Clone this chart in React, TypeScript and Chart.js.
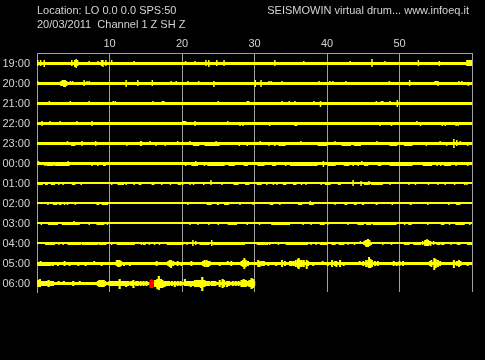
import React, { useEffect, useRef } from 'react';
import { Chart, registerables } from 'chart.js';

Chart.register(...registerables);

type Spike = [number, number, number]; // [minute, amplitude above trace, amplitude below trace]
type Block = [number, number]; // [start minute, end minute] of a thickened stretch

const headerLeft = ['Location: LO 0.0 0.0 SPS:50', '20/03/2011  Channel 1 Z SH Z'];
const headerRight = 'SEISMOWIN virtual drum... www.infoeq.it';

const rowLabels = ['19:00', '20:00', '21:00', '22:00', '23:00', '00:00', '01:00', '02:00', '03:00', '04:00', '05:00', '06:00'];
const rowEndMinutes = [60, 60, 60, 60, 60, 60, 60, 60, 60, 60, 60, 30];
const minuteTicks = [10, 20, 30, 40, 50];

const spikes19: Spike[] = [[0.1,2,1],[0.5,2,1],[1.0,2,2],[4.8,2,1],[5.2,2,2],[5.4,3,3],[5.6,2,1],[7.2,1,0],[8.4,1,0],[8.9,2,1],[9.1,2,2],[9.5,2,1],[10.3,2,0],[13.4,1,0],[20.5,1,0],[21.8,1,0],[23.3,2,1],[23.7,2,2],[24.8,2,1],[25.8,2,1],[32.8,2,1],[36.8,1,0],[43.2,1,0],[46.2,3,2],[48.0,1,0],[52.6,2,1],[55.5,1,1],[59.3,2,1],[59.5,2,1],[59.7,2,1],[59.9,2,1]];
const spikes20: Spike[] = [[0.1,1,0],[3.3,1,1],[3.5,2,1],[3.7,2,2],[3.9,2,2],[4.1,1,1],[4.6,1,0],[4.9,1,0],[6.5,2,1],[6.9,1,0],[7.2,1,0],[12.3,2,2],[13.9,2,1],[15.9,2,1],[18.5,1,0],[19.2,1,0],[20.8,1,0],[22.3,1,0],[24.4,1,2],[30.1,2,2],[30.9,2,2],[32.0,1,0],[32.3,1,0],[33.8,1,0],[38.9,1,0],[40.4,1,0],[40.8,1,0],[42.6,1,0],[48.6,1,0],[51.4,2,1],[54.9,1,0],[55.1,1,0],[55.3,1,1],[58.2,1,0],[58.6,1,0],[59.5,0,1]];
const spikes21: Spike[] = [[1.7,1,0],[4.6,1,0],[7.2,1,0],[10.5,1,0],[10.8,1,0],[16.0,1,0],[17.3,1,0],[17.5,1,0],[25.0,1,0],[29.0,1,0],[29.2,1,0],[33.8,1,0],[34.8,1,0],[35.6,1,0],[38.2,1,0],[39.1,1,2],[46.8,1,0],[47.5,1,0],[47.7,1,0],[48.7,1,0],[49.7,2,2]];
const spikes22: Spike[] = [[0.7,1,1],[1.8,1,0],[3.2,1,0],[5.5,1,0],[7.6,1,1],[20.1,1,0],[20.3,1,0],[20.5,1,0],[21.8,1,1],[26.3,1,0],[28.0,0,1],[28.4,0,1],[32.1,0,1],[35.6,0,1],[35.8,0,1],[47.3,0,1],[48.9,0,1],[52.4,1,0],[52.9,0,1],[55.9,0,1],[56.3,0,1],[57.8,0,1],[58.1,0,1]];
const spikes23: Spike[] = [[4.2,1,0],[6.2,1,1],[8.1,1,1],[12.4,0,1],[14.3,1,1],[14.4,1,1],[15.6,1,0],[16.4,0,1],[17.7,0,1],[19.4,1,0],[21.1,1,0],[24.7,1,0],[27.9,0,1],[29.0,0,1],[30.8,1,0],[32.0,0,1],[32.8,0,1],[36.4,1,0],[41.1,1,0],[46.9,1,0],[53.7,0,1],[55.6,1,0],[56.5,0,1],[57.5,3,3],[57.9,2,1],[58.4,1,0],[59.4,0,1]];
const spikes00: Spike[] = [[0.2,1,0],[1.1,0,1],[4.3,1,0],[7.6,0,1],[8.4,0,1],[20.5,0,1],[21.9,1,0],[23.1,0,1],[34.3,0,1],[39.5,1,2],[43.6,0,1],[44.3,0,1],[44.8,1,0],[55.2,0,1],[55.7,0,1],[57.8,0,1],[59.4,0,1]];
const spikes01: Spike[] = [[3.0,0,1],[3.6,0,1],[6.1,0,1],[12.3,0,1],[13.4,0,1],[17.2,0,1],[18.4,0,1],[20.1,0,1],[21.1,0,1],[21.6,0,1],[23.0,0,1],[24.0,2,1],[25.5,0,1],[31.7,0,1],[32.6,0,1],[33.1,0,1],[36.5,0,1],[37.1,0,1],[39.2,0,1],[40.1,0,1],[43.6,2,2],[44.7,1,2],[45.8,1,1],[48.7,0,1],[51.3,0,1],[52.2,0,1],[54.0,0,1],[55.3,0,1],[56.3,0,1],[57.6,0,1],[59.0,0,1],[59.3,0,1]];
const spikes02: Spike[] = [[1.5,0,1],[3.8,0,1],[4.2,0,1],[5.3,0,1],[20.8,0,1],[28.0,0,1],[29.8,0,1],[33.5,0,1],[37.7,1,0],[41.1,0,1],[49.0,0,1],[53.9,0,1],[56.8,0,1]];
const spikes03: Spike[] = [[0.6,0,1],[5.1,1,0],[7.2,0,1],[9.7,0,1],[21.1,0,1],[22.2,0,1],[23.7,0,1],[25.0,0,1],[29.0,0,1],[30.7,0,1],[36.7,0,1],[37.8,0,1],[40.1,0,1],[42.9,0,1],[50.7,0,1],[53.9,0,1],[56.9,0,1],[59.7,0,1]];
const spikes04: Spike[] = [[3.0,0,1],[3.6,0,1],[10.3,0,1],[14.4,0,1],[15.5,0,1],[16.2,0,1],[16.9,0,1],[20.1,0,1],[20.7,0,1],[21.5,2,2],[21.9,1,1],[24.1,2,2],[32.1,0,1],[33.3,0,1],[37.8,0,1],[38.5,0,1],[42.9,0,1],[43.8,0,1],[44.6,1,0],[45.1,1,1],[45.3,2,2],[45.4,2,3],[45.6,3,3],[45.7,3,3],[45.9,2,2],[46.1,0,1],[47.7,0,1],[48.9,0,1],[53.2,1,1],[53.5,2,2],[53.7,2,2],[53.8,3,2],[54.0,2,2],[54.1,1,1],[54.3,1,2],[54.7,1,1],[57.1,0,1]];
const spikes05: Spike[] = [[0.5,1,0],[2.2,0,1],[2.9,0,1],[3.8,1,1],[4.5,0,1],[5.7,0,1],[6.7,0,1],[7.9,1,0],[8.9,0,1],[11.0,2,1],[11.2,2,2],[11.4,2,2],[11.6,1,1],[12.0,0,1],[12.8,0,1],[16.5,1,1],[18.1,1,1],[18.3,2,2],[18.5,2,3],[18.8,1,1],[19.4,1,1],[19.9,0,1],[21.3,1,1],[22.9,1,1],[23.1,2,2],[23.4,2,2],[23.6,1,2],[23.8,1,1],[25.2,0,1],[26.3,1,0],[26.8,1,1],[28.2,1,1],[28.4,2,2],[28.6,4,4],[28.8,2,2],[29.1,1,1],[30.5,2,2],[30.7,1,2],[31.0,1,1],[31.3,1,1],[31.9,0,1],[33.0,0,1],[33.8,2,2],[34.2,1,1],[34.9,1,1],[35.1,1,1],[35.4,1,1],[35.7,2,2],[36.0,3,3],[36.1,4,4],[36.3,2,2],[36.5,2,2],[36.8,2,2],[37.2,2,4],[37.4,1,1],[38.1,0,1],[39.4,1,0],[40.1,0,1],[40.7,2,2],[41.1,1,1],[41.3,1,2],[41.8,2,2],[42.3,0,1],[44.5,1,0],[45.0,1,1],[45.4,2,2],[45.7,2,2],[45.8,5,3],[46.0,3,3],[46.2,2,2],[46.6,1,1],[47.0,1,1],[49.2,1,1],[49.6,0,1],[50.0,1,1],[50.5,1,1],[54.2,1,1],[54.4,2,2],[54.8,4,5],[55.0,3,3],[55.3,2,2],[55.6,1,1],[57.5,2,3],[57.9,1,1],[58.2,2,2],[58.4,1,1],[59.4,0,1]];
const spikes06: Spike[] = [[0.0,2,1],[0.2,2,2],[0.4,3,2],[0.6,1,1],[0.8,1,1],[1.1,1,1],[1.3,1,1],[1.6,2,2],[1.9,1,1],[2.2,1,1],[3.0,1,0],[3.7,1,0],[5.0,1,1],[5.9,1,0],[8.4,1,1],[8.6,2,2],[8.9,2,2],[9.2,2,2],[9.4,1,1],[10.0,1,1],[10.3,1,1],[10.6,1,1],[10.9,1,1],[11.2,1,1],[11.4,3,4],[11.7,1,1],[12.0,1,1],[12.3,1,2],[12.6,1,1],[13.0,1,1],[13.3,2,3],[13.7,1,1],[13.9,1,1],[14.3,1,1],[14.7,1,1],[15.1,1,1],[16.3,2,2],[16.6,3,4],[16.8,6,5],[17.1,3,3],[17.3,2,3],[17.6,1,2],[17.9,1,1],[18.2,1,1],[18.6,1,1],[19.0,1,2],[19.4,1,1],[19.8,1,1],[20.4,3,1],[20.6,1,1],[20.9,1,1],[21.2,1,2],[21.5,1,1],[21.8,2,2],[22.0,2,2],[22.3,2,2],[22.6,2,3],[22.8,5,6],[23.1,2,2],[23.4,1,1],[23.7,1,1],[24.1,1,1],[24.4,1,1],[24.6,1,1],[25.2,2,2],[25.6,3,3],[25.8,2,2],[26.2,1,2],[26.5,1,1],[27.0,1,1],[27.4,1,1],[27.8,1,1],[28.2,2,2],[28.5,3,2],[28.8,2,2],[29.1,1,1],[29.3,2,2],[29.6,4,4],[29.8,3,3],[29.95,1,1]];
const redSpikes06: Spike[] = [[15.6,2,3],[15.8,3,3],[16.0,2,3]];
const redSpan06: Block = [15.5, 16.1];

const blocks23: Block[] = [[4.7,5.3],[21.5,22.4],[23.1,25.2],[33.3,34.3],[38.7,40.0],[42.0,43.3],[43.7,44.7],[48.6,49.7],[50.6,51.8]];
const blocks00: Block[] = [[1.3,2.3],[2.4,4.5],[9.1,9.5],[21.3,22.2],[23.5,25.9],[26.4,27.3],[28.5,29.1],[30.4,31.4],[32.4,33.0],[34.9,38.7],[40.1,41.2],[42.3,43.1],[45.1,45.7],[47.0,47.5],[48.6,51.8],[53.2,54.5],[56.1,57.1]];
const blocks01: Block[] = [[0.1,0.8],[1.1,1.5],[1.9,2.5],[4.8,5.3],[10.2,10.4],[11.1,12.0],[14.0,14.4],[15.8,16.2],[19.4,19.9],[27.1,27.8],[28.7,29.3],[30.3,31.0],[33.9,34.4],[35.3,35.8],[39.7,40.5],[41.5,41.9],[45.1,45.7],[46.1,47.7]];
const blocks02: Block[] = [[2.2,2.8],[3.0,3.4],[8.2,8.6],[8.9,9.8],[23.4,24.1],[24.8,25.1],[25.8,26.5],[32.1,32.6],[36.0,36.6],[37.5,38.2],[42.4,42.8],[43.7,44.1],[44.8,45.1],[46.7,47.0],[51.4,51.7],[57.8,58.4]];
const blocks03: Block[] = [[1.5,2.9],[3.4,5.9],[8.2,9.3],[26.3,27.6],[32.3,34.9],[39.0,39.7],[44.2,45.1],[45.4,46.1],[46.3,49.6],[51.2,51.7],[55.7,56.2],[57.7,59.0]];
const blocks04: Block[] = [[1.1,2.5],[4.2,6.1],[6.2,8.4],[8.5,9.6],[11.0,13.5],[14.6,15.0],[17.9,20.1],[22.4,23.8],[24.2,28.7],[30.3,31.9],[34.3,37.4],[39.0,40.1],[40.6,41.2],[41.6,42.4],[50.6,51.4],[51.9,53.0],[55.1,55.6],[55.7,56.2],[57.9,58.4],[59.3,60.0]];
const blocks05: Block[] = [[0.1,2.0]];

const rowSpikes: Spike[][] = [spikes19, spikes20, spikes21, spikes22, spikes23, spikes00, spikes01, spikes02, spikes03, spikes04, spikes05, spikes06];
const rowBlocks: Block[][] = [[], [], [], [], blocks23, blocks00, blocks01, blocks02, blocks03, blocks04, blocks05, []];

// styling
const ROW_STEP = 20;
const LINE_WIDTHS = [3, 3, 3, 3, 3, 3, 2, 2, 2, 2, 3, 3];
const SPIKE_WIDTHS = [1.5, 1.5, 1.5, 1.5, 1.5, 1.5, 1.5, 1.5, 1.5, 1.5, 2, 2.2];
const TRACE = '#ffff00';
const RED = '#ff0000';
const TEXT = '#d4d4d4';
const GRID = '#a0a0a0';
const FONT = '"Liberation Sans", Arial, sans-serif';

const rowBase = (i: number) => i * ROW_STEP + (LINE_WIDTHS[i] % 2 === 0 ? -0.5 : 0);

function spikePoints(i: number, list: Spike[]) {
  const base = rowBase(i);
  const hw = LINE_WIDTHS[i] / 2;
  const pts: any[] = [];
  list.forEach(([m, up, down]) => {
    pts.push({ x: m, y: base - hw - up }, { x: m, y: base + hw + down }, { x: m, y: null });
  });
  return pts;
}

function buildDatasets() {
  const ds: any[] = [];
  rowLabels.forEach((label, i) => {
    const base = rowBase(i);
    ds.push({
      label,
      data: [{ x: 0, y: base }, { x: rowEndMinutes[i], y: base }],
      borderColor: TRACE,
      borderWidth: LINE_WIDTHS[i],
      order: 2,
    });
    ds.push({
      label: label + ' spikes',
      data: spikePoints(i, rowSpikes[i]),
      borderColor: TRACE,
      borderWidth: SPIKE_WIDTHS[i],
      order: 1,
    });
  });
  const blockData: any[] = [];
  rowBlocks.forEach((list, i) => {
    const y = rowBase(i) + LINE_WIDTHS[i] / 2 + 0.5;
    list.forEach(([s, e]) => blockData.push({ x: s, y }, { x: e, y }, { x: e, y: null }));
  });
  ds.push({ label: 'thick', data: blockData, borderColor: TRACE, borderWidth: 1, order: 1 });
  const r = 11;
  ds.push({
    label: 'event',
    data: [{ x: redSpan06[0], y: rowBase(r) }, { x: redSpan06[1], y: rowBase(r) }],
    borderColor: RED, borderWidth: LINE_WIDTHS[r], order: 0,
  });
  ds.push({ label: 'event spikes', data: spikePoints(r, redSpikes06), borderColor: RED, borderWidth: 1.5, order: 0 });
  return ds;
}

const headerPlugin = {
  id: 'drumHeader',
  afterDraw(chart: any) {
    const ctx = chart.ctx;
    ctx.save();
    ctx.font = `11px ${FONT}`;
    ctx.fillStyle = TEXT;
    ctx.textBaseline = 'alphabetic';
    ctx.textAlign = 'left';
    ctx.fillText(headerLeft[0], chart.chartArea.left, 14);
    ctx.fillText(headerLeft[1], chart.chartArea.left, 28);
    ctx.textAlign = 'right';
    ctx.fillText(headerRight, chart.chartArea.right - 3, 14);
    ctx.restore();
  },
};

export default function App() {
  const ref = useRef<HTMLCanvasElement | null>(null);
  useEffect(() => {
    document.body.style.margin = '0';
    document.body.style.background = '#000';
    if (!ref.current) return;
    const chart = new Chart(ref.current, {
      type: 'line',
      data: { datasets: buildDatasets() },
      options: {
        animation: false,
        responsive: false,
        events: [],
        spanGaps: false,
        layout: { padding: { top: 0, left: 0, right: 13, bottom: 68 } },
        plugins: { legend: { display: false }, tooltip: { enabled: false }, title: { display: false } },
        elements: {
          point: { radius: 0, hoverRadius: 0 },
          line: { tension: 0, borderCapStyle: 'butt', borderJoinStyle: 'bevel', fill: false },
        },
        scales: {
          x: {
            type: 'linear',
            position: 'top',
            min: 0,
            max: 60,
            afterBuildTicks: (s: any) => {
              s.ticks = [0, ...minuteTicks, 60].map((v) => ({ value: v }));
            },
            afterFit: (s: any) => {
              s.height = 53;
            },
            ticks: {
              color: TEXT,
              font: { family: FONT, size: 11 },
              padding: 2,
              maxRotation: 0,
              autoSkip: false,
              callback: (v: any) => (minuteTicks.includes(Number(v)) ? String(v) : ''),
            },
            grid: { color: GRID, lineWidth: 1, drawTicks: false },
            border: { display: true, color: GRID, width: 1 },
          },
          y: {
            type: 'linear',
            reverse: true,
            min: -10.5,
            max: 228.5,
            afterBuildTicks: (s: any) => {
              s.ticks = rowLabels.map((_, i) => ({ value: i * ROW_STEP }));
            },
            afterFit: (s: any) => {
              s.width = 37;
            },
            ticks: {
              color: TEXT,
              font: { family: FONT, size: 11 },
              padding: 7,
              autoSkip: false,
              callback: (v: any) => rowLabels[Math.round(Number(v) / ROW_STEP)] ?? '',
            },
            grid: { display: false, drawTicks: false },
            border: { display: true, color: GRID, width: 1 },
          },
        },
      } as any,
      plugins: [headerPlugin],
    });
    return () => chart.destroy();
  }, []);
  return (
    <div style={{ position: 'fixed', left: 0, top: 0, width: 485, height: 360, background: '#000' }}>
      <canvas ref={ref} width={485} height={360} style={{ display: 'block', width: 485, height: 360 }} />
    </div>
  );
}
